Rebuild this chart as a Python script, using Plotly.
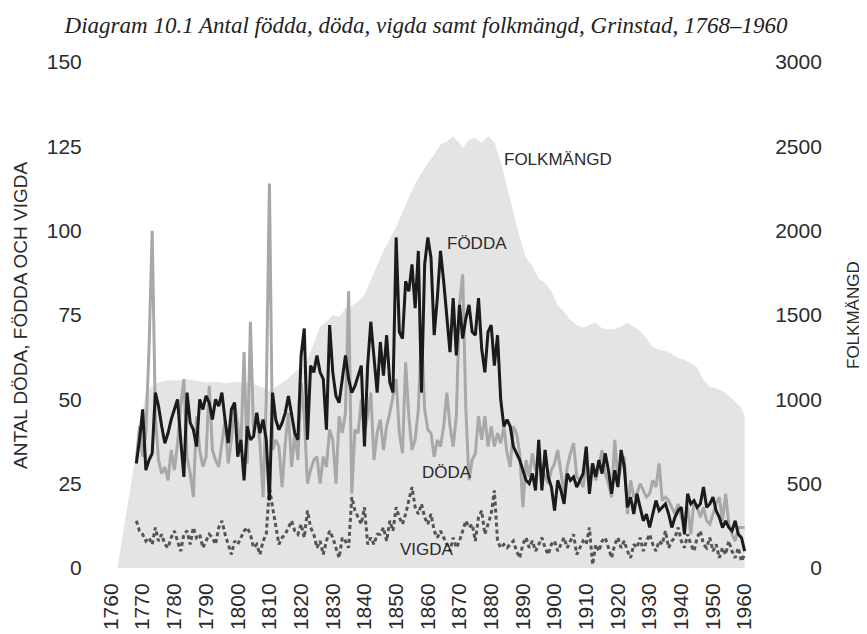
import plotly.graph_objects as go

years = list(range(1768, 1961))

fodda = [31, 38, 47, 29, 32, 34, 52, 48, 42, 37, 40, 44, 47, 50, 38, 27, 52, 43, 41, 36,
         50, 47, 51, 49, 44, 50, 48, 52, 44, 37, 47, 49, 33, 38, 26, 42, 38, 39, 46, 40,
         44, 38, 20, 52, 44, 41, 43, 46, 51, 45, 40, 38, 63, 71, 38, 60, 58, 63, 58, 56,
         41, 72, 58, 51, 49, 56, 63, 56, 52, 54, 57, 60, 36, 60, 73, 62, 52, 67, 57, 69,
         55, 52, 98, 70, 68, 85, 82, 90, 77, 94, 52, 90, 98, 92, 69, 80, 94, 85, 75, 64,
         80, 63, 78, 68, 74, 78, 70, 69, 80, 65, 58, 70, 72, 60, 69, 50, 42, 44, 42, 36,
         34, 32, 29, 26, 25, 28, 23, 38, 23, 35, 27, 24, 17, 26, 23, 19, 28, 26, 27, 24,
         26, 28, 36, 22, 31, 27, 32, 28, 34, 29, 22, 29, 24, 35, 30, 18, 21, 16, 22, 18,
         14, 16, 12, 16, 20, 17, 18, 19, 16, 12, 15, 17, 18, 10, 22, 19, 20, 18, 19, 24,
         18, 19, 21, 17, 15, 12, 14, 12, 11, 14, 10, 9, 5]

doda = [32, 42, 33, 40, 65, 100, 45, 32, 28, 30, 26, 35, 29, 37, 48, 56, 33, 28, 21, 45,
        35, 30, 33, 54, 35, 32, 30, 37, 44, 31, 38, 49, 42, 36, 64, 31, 73, 40, 46, 37,
        21, 50, 114, 35, 38, 36, 24, 37, 46, 30, 40, 32, 55, 45, 25, 29, 32, 33, 25, 33,
        30, 41, 38, 25, 45, 40, 46, 82, 22, 41, 40, 50, 40, 45, 52, 32, 40, 44, 35, 42,
        46, 51, 56, 40, 34, 61, 45, 35, 38, 47, 70, 47, 41, 40, 33, 38, 36, 42, 52, 42,
        36, 45, 78, 87, 47, 26, 32, 34, 45, 38, 45, 36, 42, 36, 40, 37, 42, 34, 30, 42,
        40, 34, 18, 32, 27, 34, 29, 31, 30, 27, 25, 29, 31, 35, 28, 22, 30, 34, 37, 27,
        26, 24, 31, 28, 31, 26, 30, 35, 28, 25, 21, 38, 26, 30, 33, 16, 26, 21, 22, 25,
        23, 21, 22, 26, 24, 31, 20, 21, 20, 18, 16, 19, 15, 13, 18, 10, 20, 18, 15, 18,
        14, 13, 16, 19, 21, 14, 22, 13, 10, 8, 12, 12, 12]

vigda = [14, 11, 10, 8, 9, 7, 12, 8, 10, 7, 6, 9, 11, 8, 5, 10, 11, 7, 12, 9,
         10, 6, 8, 10, 9, 7, 12, 14, 10, 7, 4, 8, 7, 9, 11, 12, 10, 6, 7, 4,
         8, 10, 24, 18, 12, 7, 9, 10, 12, 14, 11, 10, 13, 9, 17, 12, 10, 6, 8, 4,
         8, 11, 9, 6, 3, 9, 8, 6, 21, 17, 15, 13, 18, 7, 9, 7, 10, 10, 12, 8,
         14, 11, 18, 15, 13, 16, 20, 24, 18, 16, 19, 15, 13, 16, 11, 9, 11, 9, 7, 5,
         9, 6, 8, 11, 14, 12, 13, 8, 15, 17, 10, 13, 16, 23, 8, 6, 7, 6, 7, 8,
         5, 3, 7, 9, 6, 8, 5, 7, 9, 6, 4, 7, 8, 5, 7, 9, 6, 8, 10, 4,
         6, 8, 7, 12, 1, 7, 5, 8, 9, 6, 3, 7, 9, 6, 8, 5, 3, 7, 6, 9,
         5, 8, 10, 7, 5, 8, 7, 11, 6, 8, 9, 12, 8, 6, 10, 7, 5, 9, 11, 7,
         6, 9, 5, 7, 3, 6, 4, 8, 5, 3, 6, 2, 4]

pop_years = [1762, 1771, 1773, 1775, 1778, 1781, 1784, 1787, 1790, 1793, 1796, 1799, 1802, 1805,
             1808, 1810, 1812, 1815, 1818, 1820, 1822, 1824, 1826, 1828, 1830, 1832, 1834, 1836,
             1838, 1840, 1842, 1844, 1846, 1848, 1850, 1852, 1854, 1856, 1858, 1860, 1862, 1864,
             1866, 1868, 1870, 1871, 1873, 1875, 1877, 1879, 1881, 1883, 1885, 1887, 1889, 1891,
             1893, 1895, 1897, 1899, 1901, 1903, 1905, 1907, 1909, 1911, 1913, 1915, 1917, 1919,
             1921, 1923, 1925, 1927, 1929, 1931, 1933, 1935, 1937, 1939, 1941, 1943, 1945, 1947,
             1949, 1951, 1953, 1955, 1957, 1959, 1960]
folkmangd = [0, 1040, 1080, 1100, 1115, 1110, 1120, 1110, 1100, 1105, 1095, 1105, 1095, 1090,
             1070, 1050, 1075, 1110, 1160, 1195, 1235, 1330, 1430, 1460, 1500, 1490, 1540, 1555,
             1580, 1620, 1710, 1790, 1880, 1950, 2020, 2110, 2200, 2280, 2340, 2400, 2450, 2510,
             2530, 2560, 2520, 2490, 2540, 2550, 2520, 2560, 2525, 2410, 2260, 2110, 1960, 1840,
             1790, 1715, 1690, 1640, 1560, 1520, 1470, 1440, 1425, 1440, 1455, 1420, 1415, 1415,
             1430, 1455, 1430, 1405, 1360, 1310, 1295, 1285, 1270, 1245, 1235, 1215, 1190, 1115,
             1075, 1065, 1050, 1020, 985, 950, 900]

left_ticks = [0, 25, 50, 75, 100, 125, 150]
right_ticks = [0, 500, 1000, 1500, 2000, 2500, 3000]
x_ticks = list(range(1760, 1961, 10))

SANS = "Liberation Sans, Arial, sans-serif"
TXT = "#2b2b2b"

fig = go.Figure()
fig.add_trace(go.Scatter(x=pop_years, y=folkmangd, yaxis="y", mode="lines",
                         line=dict(width=0, color="#e4e4e5"), fill="tozeroy",
                         fillcolor="#e4e4e5", hoverinfo="skip", showlegend=False))
fig.add_trace(go.Scatter(x=years, y=vigda, yaxis="y2", mode="lines",
                         line=dict(color="#555555", width=3, dash="4px,3px"), showlegend=False))
fig.add_trace(go.Scatter(x=years, y=doda, yaxis="y2", mode="lines",
                         line=dict(color="#a8a8a8", width=3), showlegend=False))
fig.add_trace(go.Scatter(x=years, y=fodda, yaxis="y2", mode="lines",
                         line=dict(color="#1c1a1b", width=3), showlegend=False))

pad = "\u2007"
fig.update_layout(
    width=867, height=634,
    margin=dict(l=103, r=124, t=54, b=58),
    paper_bgcolor="white", plot_bgcolor="white",
    font=dict(family=SANS, color=TXT),
    title=dict(text="<i>Diagram 10.1 Antal födda, döda, vigda samt folkmängd, Grinstad, 1768–1960</i>",
               font=dict(family="Liberation Serif, Times New Roman, serif", size=23, color="#222"),
               x=418 / 867, xanchor="center", xref="container",
               y=1 - 17 / 634, yanchor="middle", yref="container"),
    xaxis=dict(range=[1760, 1962], tickvals=x_ticks, ticktext=[str(v) for v in x_ticks],
               tickangle=-90, showgrid=False, zeroline=False, showline=False,
               ticks="outside", ticklen=6, tickcolor="rgba(0,0,0,0)",
               tickfont=dict(size=21, color=TXT)),
    yaxis=dict(range=[0, 3000], side="right", tickvals=right_ticks,
               ticktext=[pad * (4 - len(str(v))) + str(v) for v in right_ticks],
               showgrid=False, zeroline=False, showline=False,
               ticks="outside", ticklen=19, tickcolor="rgba(0,0,0,0)",
               tickfont=dict(size=21, color=TXT)),
    yaxis2=dict(range=[0, 150], side="left", overlaying="y", tickvals=left_ticks,
                showgrid=False, zeroline=False, showline=False,
                ticks="outside", ticklen=24, tickcolor="rgba(0,0,0,0)",
                tickfont=dict(size=21, color=TXT)),
)

ann_font = dict(family=SANS, size=17, color=TXT)
fig.add_annotation(x=1883.4, y=121, xref="x", yref="y2", text="FOLKMÄNGD", showarrow=False,
                   xanchor="left", yanchor="middle", font=ann_font)
fig.add_annotation(x=1865.5, y=96.1, xref="x", yref="y2", text="FÖDDA", showarrow=False,
                   xanchor="left", yanchor="middle", font=ann_font)
fig.add_annotation(x=1857.6, y=28.4, xref="x", yref="y2", text="DÖDA", showarrow=False,
                   xanchor="left", yanchor="middle", font=ann_font)
fig.add_annotation(x=1850.6, y=5.4, xref="x", yref="y2", text="VIGDA", showarrow=False,
                   xanchor="left", yanchor="middle", font=ann_font)
fig.add_annotation(x=(12 - 103) / 640, y=0.5, xref="paper", yref="paper",
                   text="ANTAL DÖDA, FÖDDA OCH VIGDA", textangle=-90, showarrow=False,
                   xanchor="center", yanchor="middle", font=dict(family=SANS, size=19, color=TXT))
fig.add_annotation(x=(845 - 103) / 640, y=0.5, xref="paper", yref="paper",
                   text="FOLKMÄNGD", textangle=-90, showarrow=False,
                   xanchor="center", yanchor="middle", font=dict(family=SANS, size=17, color=TXT))

fig.write_html("out.html")
